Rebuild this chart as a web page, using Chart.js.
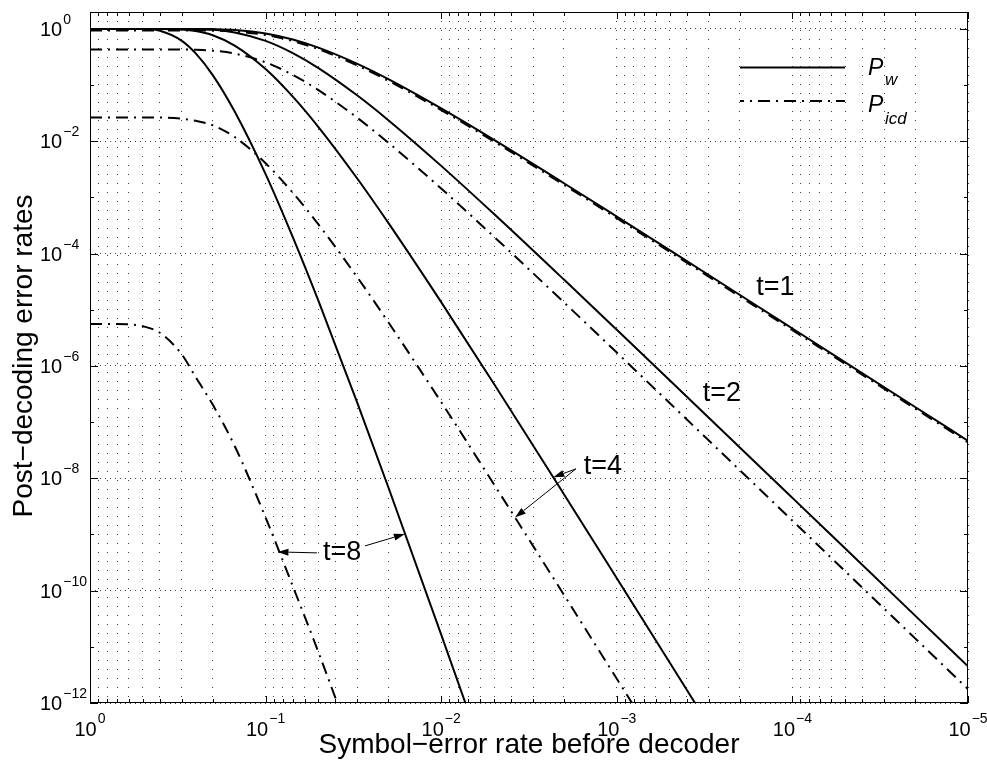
<!DOCTYPE html>
<html>
<head>
<meta charset="utf-8">
<title>Post-decoding error rates</title>
<script src="https://cdn.jsdelivr.net/npm/chart.js@4.4.1/dist/chart.umd.min.js"></script>
<style>
    html, body { margin: 0; padding: 0; background: #fff; }
    #chart { display: block; }
</style>
</head>
<body>
<canvas id="chart" width="987" height="769"></canvas>
<script>
/* ---------------- Data ---------------- */

// symbol-error rate before the decoder, shared by every curve
const symbolErrorRate = [1, 0.8, 0.6, 0.5, 0.4, 0.3, 0.25, 0.2, 0.15, 0.1, 0.07, 0.05,
    0.03, 0.02, 0.01, 0.005, 0.002, 0.001, 5e-4, 2e-4, 1e-4, 5e-5, 2e-5, 1e-5];

// word error rate P_w
const pwT1 = [1, 1, 1, 1, 0.99999, 0.99977, 0.99848, 0.99133, 0.95802, 0.83044, 0.64859, 0.46341,
    0.23809, 0.12723, 0.03839, 0.010558, 1.7896e-3, 4.561e-4, 1.1513e-4, 1.8528e-5, 4.641e-6, 1.1614e-6, 1.8593e-7, 4.6487e-8];
const pwT2 = [1, 1, 1, 1, 0.99997, 0.99843, 0.99156, 0.96255, 0.86407, 0.61142, 0.37086, 0.20077,
    0.06508, 0.023695, 3.646e-3, 5.0595e-4, 3.4482e-5, 4.4016e-6, 5.56e-7, 3.581e-8, 4.4855e-9, 5.6109e-10, 3.594e-11, 4.495e-12];
const pwT4 = [1, 1, 1, 0.99998, 0.99897, 0.97609, 0.91722, 0.77126, 0.50581, 0.19321, 0.062235, 0.017892,
    2.1513e-3, 3.522e-4, 1.3678e-5, 4.764e-7, 5.2066e-9, 1.6627e-10, 5.255e-12, 5.44e-14, null, null, null, null];
const pwT8 = [1, 1, 0.99988, 0.9947, 0.92618, 0.61337, 0.36608, 0.1507, 0.033795, 2.602e-3, 1.965e-4, 1.4375e-5,
    2.1771e-7, 6.927e-9, 1.6528e-11, 3.566e-14, null, null, null, null, null, null, null, null];

// probability of incorrect decoding P_icd
const picdT1 = [0.94, 0.94, 0.94, 0.94, 0.94, 0.93978, 0.93857, 0.93086, 0.89958, 0.77895, 0.60773, 0.43422,
    0.22285, 0.11909, 0.035895, 9.8717e-3, 1.6733e-3, 4.2645e-4, 1.0765e-4, 1.7324e-5, 4.3393e-6, 1.0859e-6, 1.7384e-7, 4.3465e-8];
const picdT2 = [0.43, 0.43, 0.43, 0.43, 0.43, 0.4293, 0.4254, 0.41, 0.3638, 0.2537, 0.15205, 0.08131,
    0.026032, 9.431e-3, 1.4402e-3, 1.9934e-4, 1.3551e-5, 1.7298e-6, 2.1851e-7, 1.4073e-8, 1.7628e-9, 2.2051e-10, 1.4124e-11, 1.7665e-12];
const picdT4 = [0.0266, 0.0266, 0.0266, 0.0266, 0.02647, 0.02518, 0.02311, 0.01928, 0.01189, 4.057e-3, 1.2136e-3, 3.31e-4,
    3.765e-5, 5.987e-6, 2.271e-7, 7.765e-9, 8.435e-11, 2.694e-12, 8.51e-14, null, null, null, null, null];
const picdT8 = [5.6e-6, 5.6e-6, 5.5e-6, 5.1e-6, 3.9e-6, 1.6e-6, 6.3e-7, 2.05e-7, 3.76e-8, 2e-9, 1.2e-10, 8e-12,
    1.05e-13, null, null, null, null, null, null, null, null, null, null, null];

// axis ticks
const xDecades = [1, 1e-1, 1e-2, 1e-3, 1e-4, 1e-5];
const xTickExponents = ["0", "\u22121", "\u22122", "\u22123", "\u22124", "\u22125"];
const xMinorSteps = [2, 3, 4, 5, 6, 7, 8, 9];
const yDecades = [1, 1e-1, 1e-2, 1e-3, 1e-4, 1e-5, 1e-6, 1e-7, 1e-8, 1e-9, 1e-10, 1e-11, 1e-12];
const yLabelDecades = [1, 1e-2, 1e-4, 1e-6, 1e-8, 1e-10, 1e-12];
const yTickExponents = ["0", "\u22122", "\u22124", "\u22126", "\u22128", "\u221210", "\u221212"];

// curve labels: text anchor and arrow tips, in data coordinates
const curveLabels = [
    { text: "t=1", at: [1.25e-4, 2.46e-5], arrows: [] },
    { text: "t=2", at: [2.52e-4, 3.2e-7], arrows: [] },
    { text: "t=4", at: [1.2e-3, 1.6e-8], arrows: [
        { from: [-27, 2], to: [2.3e-3, 1.04e-8] },
        { from: [-27, 2], to: [3.8e-3, 2.0e-9] }
    ] },
    { text: "t=8", at: [0.0367, 4.7e-10], arrows: [
        { from: [-25, 0], to: [0.0856, 4.9e-10] },
        { from: [23, -7], to: [0.0161, 1.02e-9] }
    ] }
];

/* ---------------- Helpers ---------------- */

const FONT = '"Liberation Sans", Arial, Helvetica, sans-serif';
const GRID = "rgba(0,0,0,0.75)";
const DASH_DOT = [12, 6, 2, 6];

function isDecade(v) {
    const e = Math.log10(v);
    return Math.abs(e - Math.round(e)) < 1e-9;
}

function isEvenDecade(v) {
    return isDecade(v) && Math.round(Math.log10(v)) % 2 === 0;
}

function series(values) {
    return symbolErrorRate
        .map((p, i) => ({ x: p, y: values[i] }))
        .filter(pt => pt.y !== null);
}

function curve(values, dashed) {
    return {
        data: series(values),
        borderColor: "#000",
        borderWidth: 2,
        borderDash: dashed ? DASH_DOT : [],
        pointRadius: 0,
        cubicInterpolationMode: "monotone",
        fill: false
    };
}

const xTicks = [];
xDecades.forEach((d, i) => {
    xTicks.push(d);
    if (i > 0) xMinorSteps.forEach(m => xTicks.push(m * d));
});

function drawArrow(ctx, x1, y1, x2, y2) {
    const ang = Math.atan2(y2 - y1, x2 - x1);
    const len = 11, half = 3.5;
    const bx = x2 - len * Math.cos(ang), by = y2 - len * Math.sin(ang);
    ctx.beginPath();
    ctx.moveTo(x1, y1);
    ctx.lineTo(bx, by);
    ctx.stroke();
    ctx.beginPath();
    ctx.moveTo(x2, y2);
    ctx.lineTo(bx + half * Math.sin(ang), by - half * Math.cos(ang));
    ctx.lineTo(bx - half * Math.sin(ang), by + half * Math.cos(ang));
    ctx.closePath();
    ctx.fill();
}

/* ---------------- Frame, ticks, labels, legend ---------------- */

const decorations = {
    id: "decorations",
    afterDraw(chart) {
        const { ctx, chartArea: area } = chart;
        const xs = chart.scales.x, ys = chart.scales.y;

        ctx.save();
        ctx.strokeStyle = "#000";
        ctx.fillStyle = "#000";
        ctx.lineWidth = 1;

        // inward tick marks on all four sides
        ctx.beginPath();
        xTicks.forEach(v => {
            const px = Math.round(xs.getPixelForValue(v)) + 0.5;
            const len = isDecade(v) ? 7 : 4;
            ctx.moveTo(px, area.bottom);
            ctx.lineTo(px, area.bottom - len);
            ctx.moveTo(px, area.top);
            ctx.lineTo(px, area.top + len);
        });
        yDecades.forEach(v => {
            const py = Math.round(ys.getPixelForValue(v)) + 0.5;
            const len = isEvenDecade(v) ? 8 : 4;
            ctx.moveTo(area.left, py);
            ctx.lineTo(area.left + len, py);
            ctx.moveTo(area.right, py);
            ctx.lineTo(area.right - len, py);
        });
        ctx.stroke();

        ctx.strokeRect(area.left + 0.5, area.top + 0.5, area.width - 1, area.height - 1);

        // tick labels as 10 with a raised exponent
        const base = "20px " + FONT, sup = "14px " + FONT;
        ctx.textAlign = "left";
        ctx.textBaseline = "alphabetic";
        xDecades.forEach((v, i) => {
            const px = xs.getPixelForValue(v);
            ctx.font = base;
            const w1 = ctx.measureText("10").width;
            ctx.font = sup;
            const w2 = ctx.measureText(xTickExponents[i]).width;
            const left = px - (w1 + w2 + 1) / 2;
            ctx.font = base;
            ctx.fillText("10", left, area.bottom + 33);
            ctx.font = sup;
            ctx.fillText(xTickExponents[i], left + w1 + 1, area.bottom + 20);
        });
        yLabelDecades.forEach((v, i) => {
            const py = ys.getPixelForValue(v);
            ctx.font = base;
            const w1 = ctx.measureText("10").width;
            ctx.fillText("10", 40, py + 7);
            ctx.font = sup;
            ctx.fillText(yTickExponents[i], 40 + w1 + 1, py - 5);
        });

        // axis titles
        ctx.font = "28px " + FONT;
        ctx.textAlign = "center";
        ctx.fillText("Symbol\u2212error rate before decoder", (area.left + area.right) / 2, 753);
        ctx.save();
        ctx.translate(32, 356);
        ctx.rotate(-Math.PI / 2);
        ctx.fillText("Post\u2212decoding error rates", 0, 0);
        ctx.restore();

        // legend
        ctx.lineWidth = 2;
        ctx.beginPath();
        ctx.moveTo(740, 67.5);
        ctx.lineTo(845, 67.5);
        ctx.stroke();
        ctx.setLineDash(DASH_DOT);
        ctx.lineDashOffset = 8;
        ctx.beginPath();
        ctx.moveTo(740, 101);
        ctx.lineTo(845, 101);
        ctx.stroke();
        ctx.setLineDash([]);
        ctx.textAlign = "left";
        ctx.font = "italic 23px " + FONT;
        ctx.fillText("P", 868, 75);
        ctx.fillText("P", 868, 112);
        ctx.font = "italic 17px " + FONT;
        ctx.fillText("w", 885, 85);
        ctx.fillText("icd", 885, 124);

        // curve labels with arrows
        ctx.lineWidth = 1;
        ctx.font = "27px " + FONT;
        ctx.textAlign = "center";
        ctx.textBaseline = "middle";
        curveLabels.forEach(lab => {
            const cx = xs.getPixelForValue(lab.at[0]);
            const cy = ys.getPixelForValue(lab.at[1]);
            ctx.fillText(lab.text, cx, cy);
            lab.arrows.forEach(a => {
                drawArrow(ctx, cx + a.from[0], cy + a.from[1],
                    xs.getPixelForValue(a.to[0]), ys.getPixelForValue(a.to[1]));
            });
        });

        ctx.restore();
    }
};

/* ---------------- Chart ---------------- */

new Chart(document.getElementById("chart"), {
    type: "line",
    data: {
        datasets: [
            curve(pwT1, false), curve(pwT2, false), curve(pwT4, false), curve(pwT8, false),
            curve(picdT1, true), curve(picdT2, true), curve(picdT4, true), curve(picdT8, true)
        ]
    },
    options: {
        responsive: false,
        devicePixelRatio: 1,
        animation: false,
        layout: { padding: { left: 90, right: 19, top: 12, bottom: 66 } },
        plugins: { legend: { display: false }, tooltip: { enabled: false } },
        scales: {
            x: {
                type: "logarithmic",
                min: 1e-5,
                max: 1,
                reverse: true,
                afterBuildTicks: scale => { scale.ticks = xTicks.map(v => ({ value: v })); },
                afterFit: scale => { scale.height = 0; },
                ticks: { display: false },
                grid: { color: GRID, lineWidth: 1, drawTicks: false },
                border: { display: false, dash: [1, 8] }
            },
            y: {
                type: "logarithmic",
                min: 1e-12,
                max: 2,
                afterBuildTicks: scale => { scale.ticks = yDecades.map(v => ({ value: v })); },
                afterFit: scale => { scale.width = 0; },
                ticks: { display: false },
                grid: {
                    color: ctx => (ctx.tick && isEvenDecade(ctx.tick.value)) ? GRID : "rgba(0,0,0,0)",
                    lineWidth: 1,
                    drawTicks: false
                },
                border: { display: false, dash: [1, 4] }
            }
        }
    },
    plugins: [decorations]
});
</script>
</body>
</html>
